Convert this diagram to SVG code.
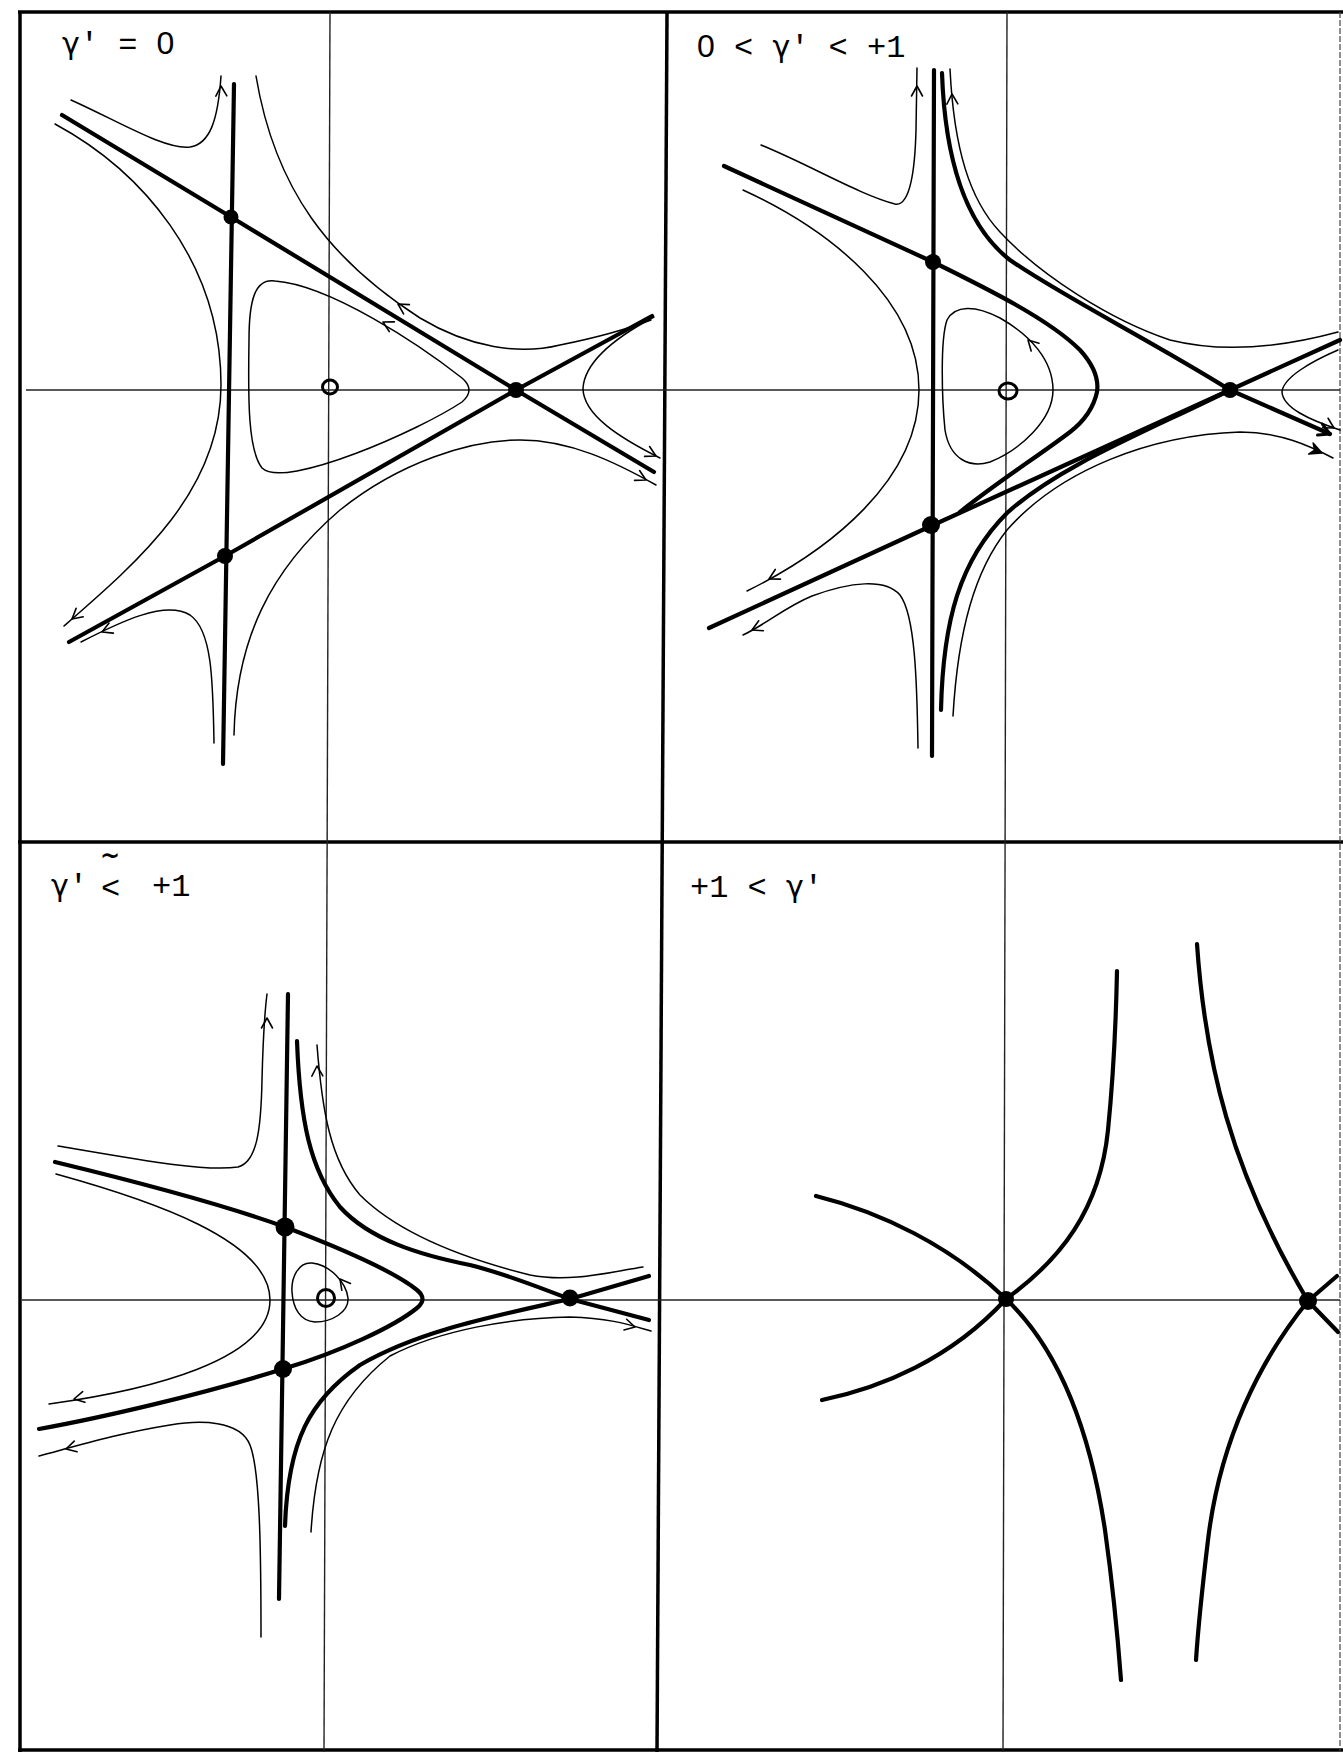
<svg xmlns="http://www.w3.org/2000/svg" xmlns:xlink="http://www.w3.org/1999/xlink" width="1343" height="1752" viewBox="0 0 1343 1752">
<style>
.frame{stroke:#000;stroke-width:3.5;fill:none}
.axis{stroke:#222;stroke-width:1.4;fill:none}
.thin{stroke:#000;stroke-width:1.5;fill:none;stroke-linecap:round}
.thick{stroke:#000;stroke-width:4.2;fill:none;stroke-linecap:round;stroke-linejoin:round}
.dot{fill:#000}
.open{fill:none;stroke:#000;stroke-width:3}
.lbl{font-family:"Liberation Mono","DejaVu Sans Mono",monospace;font-size:32px;fill:#000}
.g{font-family:"DejaVu Sans","Noto Sans",sans-serif;font-size:30px}
.z{font-family:"Liberation Sans","Noto Sans",sans-serif}
.tl{font-family:"DejaVu Sans","Noto Sans",sans-serif;font-size:24px;font-weight:bold;fill:#000}
</style>
<defs>
<path id="ch" d="M-10,-5.5 L0,0 L-10,5.5" fill="none" stroke="#000" stroke-width="1.6" stroke-linecap="round" stroke-linejoin="round"/>
<path id="chb" d="M-11,-6 L0,0 L-11,6" fill="none" stroke="#000" stroke-width="3" stroke-linecap="round" stroke-linejoin="round"/>
<path id="tri" d="M-12,-6 L0,0 L-12,6 L-8,0 Z" fill="#000" stroke="#000" stroke-width="1.5" stroke-linejoin="round"/>
</defs>
<rect x="0" y="0" width="1343" height="1752" fill="#fff"/>

<g id="frame">
<line class="frame" x1="20" y1="12" x2="20" y2="1752"/>
<line class="frame" x1="18" y1="12" x2="1343" y2="12"/>
<line class="frame" x1="667" y1="12" x2="657" y2="1752"/>
<line class="frame" x1="18" y1="842" x2="1343" y2="842"/>
<line class="frame" x1="18" y1="1750" x2="1343" y2="1750"/>
<line x1="1340" y1="12" x2="1340" y2="1752" stroke="#444" stroke-width="1.2" stroke-dasharray="6 2"/>
</g>

<g id="axes">
<line class="axis" x1="330" y1="12" x2="324" y2="1752"/>
<line class="axis" x1="1007" y1="12" x2="1003" y2="1752"/>
<line class="axis" x1="26" y1="390" x2="1340" y2="390"/>
<line class="axis" x1="22" y1="1300" x2="1340" y2="1300"/>
</g>

<g id="labels">
<text class="lbl" x="62" y="54"><tspan class="g">γ</tspan>' = <tspan class="z">0</tspan></text>
<text class="lbl" x="697" y="57"><tspan class="z">0</tspan> &lt; <tspan class="g">γ</tspan>' &lt; +1</text>
<text class="lbl" x="51" y="896"><tspan class="g">γ</tspan>'</text>
<text class="lbl" x="101" y="898">&lt;</text>
<text class="tl" x="100" y="864">~</text>
<text class="lbl" x="152" y="896">+1</text>
<text class="lbl" x="690" y="897">+1 &lt; <tspan class="g">γ</tspan>'</text>
</g>

<g id="panel1">
<g id="p1-connectors">
<path class="thick" d="M62,115 L231,217 L516,390 L654,472"/>
<path class="thick" d="M69,642 L225,556 L516,390 L652,316"/>
<path class="thick" d="M234,84 L223,764"/>
<path class="thin" d="M71,100 C120,122 165,150 190,147 C210,144 218,120 221,76"/>
<path class="thin" d="M55,124 C140,170 221,260 221,385 C221,490 140,560 64,626"/>
<path class="thin" d="M214,743 C213,680 212,630 190,615 C165,600 120,622 81,642"/>
<path class="thin" d="M234,735 C236,640 270,570 340,510 C400,462 470,440 520,440 C570,440 615,462 656,485"/>
<path class="thin" d="M256,76 C275,190 330,260 420,318 C470,348 520,355 560,345 C600,337 630,328 651,320"/>
<path class="thin" d="M462,378 C420,345 330,285 275,281 C255,278 249,300 249,340 C248,400 248,450 262,468 C285,490 420,430 462,402 Q476,390 462,378 Z"/>
<path class="thin" d="M654,317 C620,335 585,360 583,388 C583,415 620,438 660,458"/>
<use xlink:href="#ch" href="#ch" transform="translate(221,86) rotate(-92)"/>
<use xlink:href="#ch" href="#ch" transform="translate(72,619) rotate(140)"/>
<use xlink:href="#ch" href="#ch" transform="translate(102,632) rotate(157)"/>
<use xlink:href="#ch" href="#ch" transform="translate(646,480) rotate(27)"/>
<use xlink:href="#ch" href="#ch" transform="translate(398,304) rotate(-148)"/>
<use xlink:href="#ch" href="#ch" transform="translate(383,322) rotate(-152)"/>
<use xlink:href="#ch" href="#ch" transform="translate(656,456) rotate(27)"/>
</g>
<g id="p1-nodes">
<circle class="dot" cx="231" cy="217" r="7.5"/>
<circle class="dot" cx="225" cy="556" r="8"/>
<circle class="dot" cx="516" cy="390" r="8"/>
<ellipse class="open" cx="330" cy="387" rx="7.5" ry="7"/>
</g>
</g>

<g id="panel2">
<g id="p2-connectors">
<path class="thick" d="M934,70 L932,756"/>
<path class="thick" d="M724,166 L933,262 C990,290 1050,320 1080,350 Q1100,372 1097,392 Q1092,415 1070,432 C1040,455 1000,480 960,512"/>
<path class="thick" d="M709,628 L931,526 L1230,390 L1340,340"/>
<path class="thick" d="M1230,390 L1330,434"/>
<path class="thick" d="M942,73 C945,160 965,225 1010,260 C1060,295 1150,340 1230,390"/>
<path class="thick" d="M941,710 C943,620 960,560 1007,513 C1060,465 1150,430 1230,390"/>
<path class="thin" d="M950,69 C954,150 970,200 1000,232 C1040,275 1110,320 1170,340 C1230,355 1290,345 1338,332"/>
<path class="thin" d="M953,716 C958,630 975,570 1007,530 C1060,470 1150,435 1240,432 C1280,432 1310,446 1333,458"/>
<path class="thin" d="M761,145 C810,165 860,195 895,204 C910,207 915,170 916,130 L917,68"/>
<path class="thin" d="M743,190 C830,230 919,300 919,390 C919,480 830,550 747,591"/>
<path class="thin" d="M918,748 C917,680 915,615 900,595 C885,578 850,582 812,596 C785,607 765,625 743,635"/>
<path class="thin" d="M1053,390 C1053,360 1030,335 1000,318 C975,305 955,305 947,320 C940,340 942,400 945,430 C950,460 970,468 990,462 C1020,450 1053,420 1053,390 Z"/>
<path class="thin" d="M1338,350 C1310,362 1283,378 1282,392 C1283,408 1310,420 1340,430"/>
<use xlink:href="#ch" href="#ch" transform="translate(917,86) rotate(-90)"/>
<use xlink:href="#ch" href="#ch" transform="translate(952,94) rotate(-92)"/>
<use xlink:href="#ch" href="#ch" transform="translate(769,579) rotate(152)"/>
<use xlink:href="#ch" href="#ch" transform="translate(752,630) rotate(155)"/>
<use xlink:href="#ch" href="#ch" transform="translate(1028,340) rotate(-135)"/>
<use xlink:href="#tri" href="#tri" transform="translate(1322,453) rotate(22)"/>
<use xlink:href="#ch" href="#ch" transform="translate(1334,428) rotate(30)"/>
<use xlink:href="#chb" href="#chb" transform="translate(1330,434) rotate(24)"/>
</g>
<g id="p2-nodes">
<circle class="dot" cx="933" cy="262" r="8"/>
<circle class="dot" cx="931" cy="525" r="9"/>
<circle class="dot" cx="1230" cy="390" r="8"/>
<ellipse class="open" cx="1008" cy="391" rx="9" ry="8"/>
</g>
</g>

<g id="panel3">
<g id="p3-connectors">
<path class="thick" d="M288,994 L279,1599"/>
<path class="thick" d="M55,1162 C150,1185 230,1207 285,1227 C340,1248 395,1272 417,1290 Q428,1299 417,1308 C395,1326 340,1352 283,1369 C200,1395 100,1418 39,1429"/>
<path class="thick" d="M297,1041 C300,1120 310,1170 340,1207 C370,1240 420,1255 470,1265 C510,1275 545,1290 570,1299"/>
<path class="thick" d="M285,1526 C288,1440 310,1400 360,1365 C420,1330 500,1315 570,1299"/>
<path class="thick" d="M570,1299 L649,1276"/>
<path class="thick" d="M570,1299 L649,1320"/>
<path class="thin" d="M58,1146 C140,1160 205,1172 238,1167 C257,1162 261,1130 262,1080 C263,1040 265,1010 267,994"/>
<path class="thin" d="M317,1045 C322,1110 330,1160 360,1195 C400,1235 470,1260 530,1275 C570,1283 610,1272 643,1267"/>
<path class="thin" d="M56,1174 C150,1200 270,1240 270,1300 C270,1360 150,1390 49,1404"/>
<path class="thin" d="M261,1637 C261,1550 260,1470 250,1445 C240,1420 200,1420 170,1425 C120,1433 80,1445 39,1456"/>
<path class="thin" d="M311,1532 C316,1450 335,1400 390,1356 C440,1330 510,1318 570,1317 C610,1318 630,1325 651,1331"/>
<path class="thin" d="M348,1298 C346,1282 330,1265 312,1263 C298,1262 291,1278 292,1292 C293,1308 300,1321 315,1322 C332,1322 349,1312 348,1298 Z"/>
<use xlink:href="#ch" href="#ch" transform="translate(267,1018) rotate(-90)"/>
<use xlink:href="#ch" href="#ch" transform="translate(317,1066) rotate(-92)"/>
<use xlink:href="#ch" href="#ch" transform="translate(74,1399) rotate(168)"/>
<use xlink:href="#ch" href="#ch" transform="translate(66,1449) rotate(165)"/>
<use xlink:href="#ch" href="#ch" transform="translate(340,1279) rotate(-128)"/>
<use xlink:href="#ch" href="#ch" transform="translate(635,1327) rotate(14)"/>
</g>
<g id="p3-nodes">
<circle class="dot" cx="285" cy="1227" r="9.5"/>
<circle class="dot" cx="283" cy="1369" r="9"/>
<circle class="dot" cx="570" cy="1298" r="8.5"/>
<circle class="open" cx="326" cy="1298" r="8.5"/>
</g>
</g>

<g id="panel4">
<g id="p4-connectors">
<path class="thick" d="M816,1196 C880,1212 950,1245 1006,1299"/>
<path class="thick" d="M822,1400 C880,1388 950,1360 1006,1299"/>
<path class="thick" d="M1006,1299 C1060,1260 1100,1210 1108,1130 C1114,1070 1116,1020 1117,971"/>
<path class="thick" d="M1006,1299 C1060,1350 1090,1430 1105,1530 C1112,1580 1118,1640 1121,1680"/>
<path class="thick" d="M1197,944 C1205,1060 1230,1170 1308,1301"/>
<path class="thick" d="M1308,1301 C1260,1360 1220,1440 1208,1540 C1202,1590 1198,1630 1196,1660"/>
<path class="thick" d="M1308,1301 L1337,1276"/>
<path class="thick" d="M1308,1301 L1338,1332"/>
</g>
<g id="p4-nodes">
<circle class="dot" cx="1006" cy="1299" r="8"/>
<circle class="dot" cx="1308" cy="1301" r="9"/>
</g>
</g>
</svg>
